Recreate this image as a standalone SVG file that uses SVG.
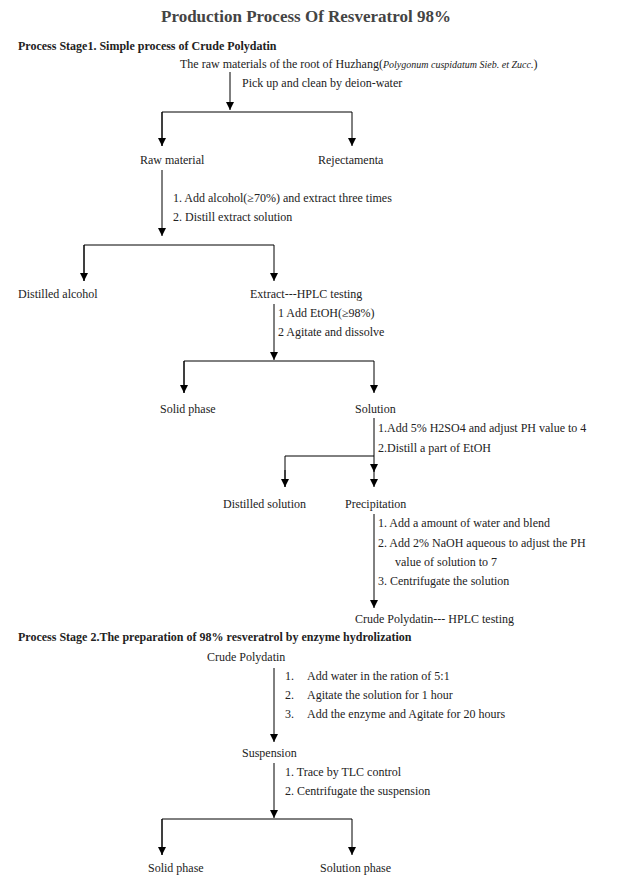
<svg xmlns="http://www.w3.org/2000/svg" width="619" height="875" viewBox="0 0 619 875">
<style>
text{font-family:"Liberation Serif",serif;font-size:12px;fill:#222}
.h{font-weight:bold}
.t{font-size:17px;font-weight:bold;fill:#444}
.c line,.c polyline{stroke:#000;stroke-width:1;fill:none}
</style>
<defs><marker id="a" viewBox="0 0 8 8" refX="8" refY="4" markerWidth="8" markerHeight="8" markerUnits="userSpaceOnUse" orient="auto"><path d="M0,0L8,4L0,8z" fill="#000"/></marker></defs>
<rect width="619" height="875" fill="#fff"/>
<text class="t" x="306" y="22" text-anchor="middle">Production Process Of Resveratrol  98%</text>
<text class="h" x="18" y="50">Process Stage1. Simple process of Crude Polydatin</text>
<text class="h" x="18" y="641">Process Stage 2.The preparation of 98% resveratrol by enzyme hydrolization</text>
<g class="c">
<line x1="230" y1="72" x2="230" y2="110" marker-end="url(#a)"/>
<polyline points="162,146 162,112 352,112 352,146" marker-end="url(#a)"/>
<line x1="162" y1="112" x2="162" y2="146" marker-end="url(#a)"/>
<line x1="162" y1="170" x2="162" y2="236" marker-end="url(#a)"/>
<polyline points="84,281 84,245 274,245 274,281" marker-end="url(#a)"/>
<line x1="84" y1="245" x2="84" y2="281" marker-end="url(#a)"/>
<line x1="274" y1="304" x2="274" y2="360" marker-end="url(#a)"/>
<polyline points="184,393 184,361 374,361 374,393" marker-end="url(#a)"/>
<line x1="184" y1="361" x2="184" y2="393" marker-end="url(#a)"/>
<line x1="374" y1="418" x2="374" y2="472" marker-end="url(#a)"/>
<line x1="374" y1="470" x2="374" y2="487" marker-end="url(#a)"/>
<polyline points="285,487 285,456 374,456"/>
<line x1="285" y1="470" x2="285" y2="487" marker-end="url(#a)"/>
<line x1="374" y1="514" x2="374" y2="608" marker-end="url(#a)"/>
<line x1="274" y1="668" x2="274" y2="742" marker-end="url(#a)"/>
<line x1="274" y1="763" x2="274" y2="818" marker-end="url(#a)"/>
<polyline points="162,855 162,819 352,819 352,855" marker-end="url(#a)"/>
<line x1="162" y1="819" x2="162" y2="855" marker-end="url(#a)"/>
</g>
<g id="n1"><text x="180" y="68">The raw materials of the root of Huzhang(<tspan font-style="italic" font-size="10">Polygonum cuspidatum Sieb. et Zucc.</tspan>)</text></g>
<g id="l1"><text x="242" y="87">Pick up and clean by deion-water</text></g>
<g id="n2"><text x="140" y="164">Raw material</text></g>
<g id="n3"><text x="318" y="164">Rejectamenta</text></g>
<g id="l2"><text x="173" y="202">1. Add alcohol(≥70%) and extract three times</text><text x="173" y="221">2. Distill extract solution</text></g>
<g id="n4"><text x="18" y="298">Distilled alcohol</text></g>
<g id="n5"><text x="250" y="298">Extract---HPLC testing</text></g>
<g id="l3"><text x="278" y="317">1 Add EtOH(≥98%)</text><text x="278" y="336">2 Agitate and dissolve</text></g>
<g id="n6"><text x="160" y="413">Solid phase</text></g>
<g id="n7"><text x="355" y="413">Solution</text></g>
<g id="l4"><text x="378" y="432">1.Add 5% H2SO4 and adjust PH value to 4</text><text x="378" y="452">2.Distill a part of EtOH</text></g>
<g id="n8"><text x="223" y="508">Distilled solution</text></g>
<g id="n9"><text x="345" y="508">Precipitation</text></g>
<g id="l5"><text x="378" y="527">1. Add a amount of water and blend</text><text x="378" y="547">2. Add 2% NaOH aqueous to adjust the PH</text><text x="395" y="566">value of solution to 7</text><text x="378" y="585">3. Centrifugate the solution</text></g>
<g id="n10"><text x="355" y="623">Crude Polydatin--- HPLC testing</text></g>
<g id="n11"><text x="207" y="661">Crude Polydatin</text></g>
<g id="l6"><text x="285" y="680">1.</text><text x="307" y="680">Add water in the ration of 5:1</text><text x="285" y="699">2.</text><text x="307" y="699">Agitate the solution for 1 hour</text><text x="285" y="718">3.</text><text x="307" y="718">Add the enzyme and Agitate for 20 hours</text></g>
<g id="n12"><text x="242" y="757">Suspension</text></g>
<g id="l7"><text x="285" y="776">1. Trace by TLC control</text><text x="285" y="795">2. Centrifugate the suspension</text></g>
<g id="n13"><text x="148" y="872">Solid phase</text></g>
<g id="n14"><text x="320" y="872">Solution phase</text></g>
</svg>
